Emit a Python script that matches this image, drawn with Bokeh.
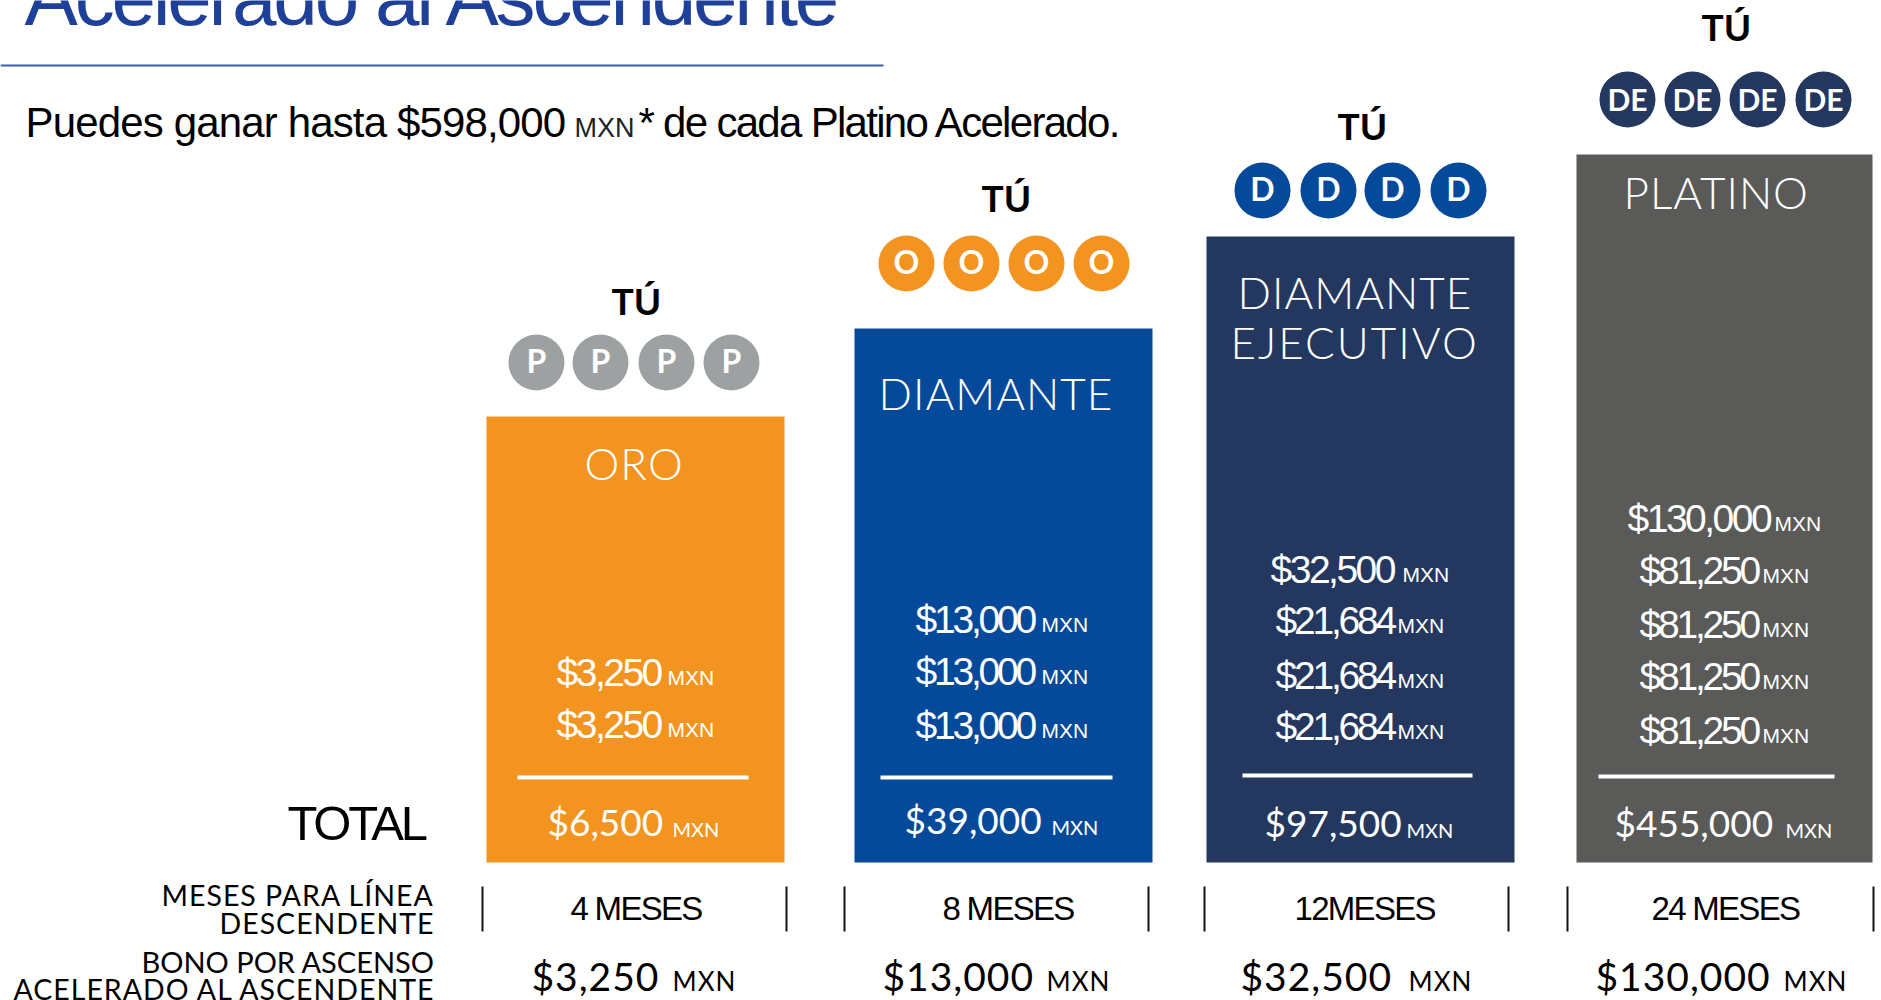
from bokeh.plotting import figure
from bokeh.layouts import column
from bokeh.models import Range1d
from bokeh.core.properties import value
from bokeh.embed import file_html
from bokeh.resources import INLINE

# ---------- data ----------
title = "Acelerado al Ascendente"
subtitle = ["Puedes ganar hasta $598,000", "MXN", "* de cada Platino Acelerado."]
tiers = ["ORO", "DIAMANTE", "DIAMANTE\nEJECUTIVO", "PLATINO"]
bar_heights = [446, 534, 626, 708]
badges = ["P", "O", "D", "DE"]
oro_amounts = ["$3,250", "$3,250"]
diamante_amounts = ["$13,000", "$13,000", "$13,000"]
ejecutivo_amounts = ["$32,500", "$21,684", "$21,684", "$21,684"]
platino_amounts = ["$130,000", "$81,250", "$81,250", "$81,250", "$81,250"]
totals = ["$6,500", "$39,000", "$97,500", "$455,000"]
months = ["4 MESES", "8 MESES", "12MESES", "24 MESES"]
bonuses = ["$3,250", "$13,000", "$32,500", "$130,000"]
row_labels = ["MESES PARA LÍNEA", "DESCENDENTE", "BONO POR ASCENSO", "ACELERADO AL ASCENDENTE"]

# ---------- styles and layout ----------
BAR_COL = ["#F39420", "#05499A", "#24385F", "#5A5A58"]
BADGE_COL = ["#9EA1A2", "#F39420", "#05499A", "#24385F"]
BLUE = "#1F4099"
SANS = "Liberation Sans"
HUM = "Lato"
LIGHT = "Lato Light"
BASE = 862
K = {SANS: 0.35, HUM: 0.43, LIGHT: 0.43}


def make_fig(spacing=None, first=False):
    f = figure(width=1881, height=1000, output_backend="svg", toolbar_location=None,
               x_range=Range1d(0, 1881), y_range=Range1d(BASE - 1000, BASE),
               min_border=0, outline_line_color=None,
               background_fill_color="white" if first else None,
               border_fill_color="white" if first else None)
    f.axis.visible = False
    f.grid.visible = False
    if not first:
        f.margin = (-1000, 0, 0, 0)
    if spacing is not None:
        f.styles = {"letter-spacing": f"{spacing}px"}
    return f


p = make_fig(first=True)
tight3 = make_fig(-3.2)
tight2 = make_fig(-2.5)
tight1 = make_fig(-1.7)
sub = make_fig(-0.85)
wide1 = make_fig(1)
wide2 = make_fig(2)


def Y(px):
    return BASE - px


def txt(f, x, px, s, font, size, color="white", style="normal"):
    f.text([x], [Y(px - K[font] * size)], text=[s], text_font=value(font), text_font_size=f"{size}px",
           text_color=color, text_align="left", text_baseline="alphabetic", text_font_style=style)


# bars
bar_left = [486, 854, 1206, 1576]
bar_right = [784, 1152, 1514, 1872]
p.quad(left=bar_left, right=bar_right, bottom=[0] * 4, top=bar_heights, fill_color=BAR_COL, line_color=None)

# title and rule
txt(tight3, 24, 25, title, SANS, 80, BLUE)
p.segment([0], [Y(65)], [883], [Y(65)], line_color="#3F5CA6", line_width=2)
txt(sub, 25, 137, subtitle[0], SANS, 42, "black")
txt(p, 574, 137, subtitle[1], SANS, 27, "#222222")
txt(tight1, 638, 137, subtitle[2], SANS, 42, "black")

# badges
badge_x = [[536, 600, 666, 731], [906, 971, 1036, 1101], [1262, 1328, 1392, 1458], [1627, 1692, 1757, 1823]]
badge_y = [362, 263, 190, 99]
tu_x = [611, 981, 1337, 1701]
tu_y = [316, 213, 141, 42]
for i in range(4):
    size = 32 if i < 3 else 30
    p.circle(badge_x[i], [Y(badge_y[i])] * 4, radius=28, fill_color=BADGE_COL[i], line_color=None)
    p.text(badge_x[i], [Y(badge_y[i] + 12 - K[HUM] * size)] * 4, text=[badges[i]] * 4, text_font=value(HUM),
           text_font_size=f"{size}px", text_color="white", text_align="center",
           text_baseline="alphabetic", text_font_style="bold")
    txt(p, tu_x[i], tu_y[i], "TÚ", HUM, 37, "black", "bold")

# bar headers
txt(wide1, 584, 481, "ORO", LIGHT, 44)
txt(wide1, 878, 411, "DIAMANTE", LIGHT, 44)
a, b = tiers[2].split("\n")
txt(wide1, 1237, 310, a, LIGHT, 44)
txt(wide2, 1230, 360, b, LIGHT, 44)
txt(wide1, 1623, 210, "PLATINO", LIGHT, 44)

# amounts: figure, left edge of figure, left edge of MXN, baselines
rows = [
    (oro_amounts, [tight2] * 2, [556, 556], [667, 667], [686, 738]),
    (diamante_amounts, [tight3] * 3, [915] * 3, [1041] * 3, [633, 685, 739]),
    (ejecutivo_amounts, [tight2, tight3, tight3, tight3], [1270, 1275, 1275, 1275], [1402, 1397, 1397, 1397], [583, 634, 689, 740]),
    (platino_amounts, [tight2, tight3, tight3, tight3, tight3], [1627, 1639, 1639, 1639, 1639], [1774, 1762, 1762, 1762, 1762], [532, 584, 638, 690, 744]),
]
for amounts, figs, lx, mx, ys in rows:
    for s, f, l, m, y in zip(amounts, figs, lx, mx, ys):
        txt(f, l, y, s, SANS, 39)
        txt(p, m, y - 2, "MXN", SANS, 21)

# separators
sep_l = [517, 880, 1242, 1598]
sep_r = [748, 1112, 1472, 1834]
sep_y = [777, 777, 775, 776]
p.segment(sep_l, [Y(v) for v in sep_y], sep_r, [Y(v) for v in sep_y], line_color="white", line_width=4)

# totals
tot_l = [547, 904, 1264, 1614]
tot_m = [672, 1051, 1406, 1785]
tot_y = [837, 835, 838, 838]
for s, l, m, y in zip(totals, tot_l, tot_m, tot_y):
    txt(p, l, y, s, HUM, 37)
    txt(p, m, y, "MXN", HUM, 20)
txt(tight3, 287, 840, "TOTAL", SANS, 49, "black")

# rows below bars
for f, s, x, y, z in zip([wide1, wide1, p, wide1], row_labels, [161, 219, 141, 13], [907, 935, 973, 1001], [28.5, 28.5, 29, 28.5]):
    txt(f, x, y, s, HUM, z, "black")
tick_x = [482, 786, 844, 1148, 1204, 1508, 1567, 1873]
p.segment(tick_x, [Y(886)] * 8, tick_x, [Y(931)] * 8, line_color="#111111", line_width=2)
for s, x in zip(months, [570, 942, 1294, 1651]):
    txt(tight1, x, 920, s, SANS, 33, "black")
bon_l = [531, 882, 1240, 1595]
bon_m = [672, 1046, 1408, 1783]
for s, l, m in zip(bonuses, bon_l, bon_m):
    txt(wide1, l, 992, s, HUM, 39, "black")
    txt(wide1, m, 992, "MXN", HUM, 26, "black")

root = column(p, tight3, tight2, tight1, sub, wide1, wide2, spacing=0)
open("out.html", "w").write(file_html(root, INLINE))
